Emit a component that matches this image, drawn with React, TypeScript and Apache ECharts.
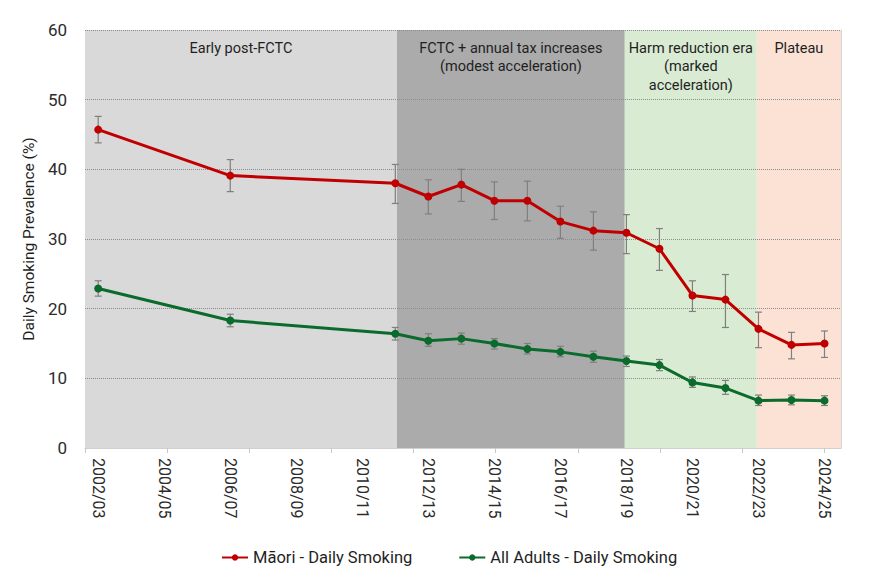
import React, { useEffect, useRef } from "react";
import * as echarts from "echarts";

// Survey years (start year of each survey period)
const YEARS = [2002, 2006, 2011, 2012, 2013, 2014, 2015, 2016, 2017, 2018, 2019, 2020, 2021, 2022, 2023, 2024];

const MAORI = [45.7, 39.1, 38.0, 36.1, 37.8, 35.5, 35.5, 32.5, 31.2, 30.9, 28.6, 21.9, 21.3, 17.1, 14.8, 15.0];
const MAORI_LOW = [43.8, 36.8, 35.1, 33.6, 35.4, 32.8, 32.6, 30.1, 28.4, 27.9, 25.5, 19.6, 17.3, 14.4, 12.8, 13.0];
const MAORI_HIGH = [47.6, 41.4, 40.7, 38.5, 40.0, 38.2, 38.3, 34.7, 33.9, 33.5, 31.5, 24.0, 24.9, 19.5, 16.6, 16.8];

const ADULTS = [22.9, 18.3, 16.4, 15.4, 15.7, 15.0, 14.2, 13.8, 13.1, 12.5, 11.9, 9.4, 8.6, 6.8, 6.9, 6.8];
const ADULTS_LOW = [21.8, 17.4, 15.5, 14.6, 14.9, 14.2, 13.5, 13.1, 12.3, 11.7, 11.1, 8.7, 7.7, 6.1, 6.2, 6.1];
const ADULTS_HIGH = [24.0, 19.2, 17.3, 16.4, 16.5, 15.7, 15.0, 14.6, 13.9, 13.2, 12.7, 10.2, 9.7, 7.6, 7.6, 7.5];

// Policy eras
const ERA_LABELS = [
  "Early post-FCTC",
  "FCTC + annual tax increases\n(modest acceleration)",
  "Harm reduction era\n(marked\nacceleration)",
  "Plateau",
];
const ERA_BOUNDS = [2001.6, 2011.05, 2017.95, 2021.95, 2024.5];

// Axis tick labels (every second survey period)
const LABEL_YEARS = [2002, 2004, 2006, 2008, 2010, 2012, 2014, 2016, 2018, 2020, 2022, 2024];

const ERA_COLORS = ["#d9d9d9", "#ababab", "#d9ebd2", "#fce2d5"];
const FONT = "Roboto, 'Noto Sans', sans-serif";
const TEXT = "#1f1f1f";

const periodLabel = (y: number) => `${y}/${String((y + 1) % 100).padStart(2, "0")}`;

export default function App() {
  const ref = useRef<HTMLDivElement>(null);

  useEffect(() => {
    if (!ref.current) return;
    const chart = echarts.init(ref.current, undefined, { renderer: "svg" });

    const eraData = ERA_LABELS.map((_, i) => [ERA_BOUNDS[i], ERA_BOUNDS[i + 1], i]);
    const tickValues = Array.from({ length: 10 }, (_, k) => 2001.6 + k * 2.488);

    const errorBars = (low: number[], high: number[]) =>
      YEARS.map((y, i) => [y, low[i], high[i]]);

    const errorRender = (_params: any, api: any) => {
      const x = api.value(0);
      const lo = api.coord([x, api.value(1)]);
      const hi = api.coord([x, api.value(2)]);
      const style = { stroke: "#7f7f7f", lineWidth: 1.2 };
      const cap = 3.5;
      return {
        type: "group",
        children: [
          { type: "line", shape: { x1: lo[0], y1: lo[1], x2: hi[0], y2: hi[1] }, style },
          { type: "line", shape: { x1: hi[0] - cap, y1: hi[1], x2: hi[0] + cap, y2: hi[1] }, style },
          { type: "line", shape: { x1: lo[0] - cap, y1: lo[1], x2: lo[0] + cap, y2: lo[1] }, style },
        ],
      };
    };

    chart.setOption({
      animation: false,
      backgroundColor: "#ffffff",
      textStyle: { fontFamily: FONT },
      grid: { left: 85, right: 29, top: 30, bottom: 124, containLabel: false },
      legend: {
        data: ["Māori - Daily Smoking", "All Adults - Daily Smoking"],
        top: 544,
        left: 216,
        itemGap: 46,
        itemWidth: 26,
        itemHeight: 8,
        textStyle: { fontSize: 16.5, color: TEXT, fontFamily: FONT },
      },
      xAxis: {
        type: "value",
        min: 2001.6,
        max: 2024.5,
        z: 1.5,
        axisLine: { show: true, lineStyle: { color: "#d0d0d0", width: 1 } },
        axisTick: {
          show: true,
          customValues: tickValues,
          length: 5,
          lineStyle: { color: "#c8c8c8" },
        },
        axisLabel: {
          customValues: LABEL_YEARS,
          rotate: -90,
          margin: 10,
          fontSize: 16,
          color: "#2b2b2b",
          fontFamily: FONT,
          formatter: (v: number) => periodLabel(Math.round(v)),
        },
        splitLine: { show: false },
      },
      yAxis: [
        {
          type: "value",
          min: 0,
          max: 60,
          interval: 10,
          z: 1.5,
          name: "Daily Smoking Prevalence (%)",
          nameLocation: "middle",
          nameGap: 46,
          nameTextStyle: { fontSize: 15.5, color: TEXT, fontFamily: FONT },
          axisLine: { show: false },
          axisTick: { show: false },
          axisLabel: { fontSize: 17, color: "#2b2b2b", margin: 18, fontFamily: FONT },
          splitLine: { show: true, lineStyle: { type: "dotted", color: "#8c8c8c", width: 1 } },
        },
        {
          type: "value",
          min: 0,
          max: 60,
          position: "right",
          z: 1.5,
          axisLine: { show: true, lineStyle: { color: "#d6d6d6" } },
          axisTick: { show: false },
          axisLabel: { show: false },
          splitLine: { show: false },
        },
      ],
      series: [
        {
          type: "custom",
          name: "eras",
          z: 1,
          silent: true,
          data: eraData,
          renderItem: (_params: any, api: any) => {
            const i = api.value(2);
            const tl = api.coord([api.value(0), 60]);
            const br = api.coord([api.value(1), 0]);
            return {
              type: "group",
              children: [
                {
                  type: "rect",
                  shape: { x: tl[0], y: tl[1], width: br[0] - tl[0], height: br[1] - tl[1] },
                  style: { fill: ERA_COLORS[i] },
                },
                {
                  type: "text",
                  x: (tl[0] + br[0]) / 2,
                  y: tl[1] + 9,
                  style: {
                    text: ERA_LABELS[i],
                    align: "center",
                    verticalAlign: "top",
                    fill: TEXT,
                    fontSize: 14.5,
                    lineHeight: 18.5,
                    fontFamily: FONT,
                  },
                },
              ],
            };
          },
        },
        {
          type: "custom",
          name: "Māori CI",
          z: 2,
          data: errorBars(MAORI_LOW, MAORI_HIGH),
          renderItem: errorRender,
        },
        {
          type: "custom",
          name: "All Adults CI",
          z: 2,
          data: errorBars(ADULTS_LOW, ADULTS_HIGH),
          renderItem: errorRender,
        },
        {
          type: "line",
          name: "Māori - Daily Smoking",
          z: 3,
          data: YEARS.map((y, i) => [y, MAORI[i]]),
          symbol: "circle",
          symbolSize: 8,
          color: "#c00000",
          lineStyle: { width: 3, color: "#c00000" },
          itemStyle: { color: "#c00000" },
        },
        {
          type: "line",
          name: "All Adults - Daily Smoking",
          z: 3,
          data: YEARS.map((y, i) => [y, ADULTS[i]]),
          symbol: "circle",
          symbolSize: 8,
          color: "#0a6b2c",
          lineStyle: { width: 3, color: "#0a6b2c" },
          itemStyle: { color: "#0a6b2c" },
        },
      ],
    });

    return () => chart.dispose();
  }, []);

  return (
    <div
      ref={ref}
      style={{ position: "fixed", left: 0, top: 0, width: 870, height: 572, background: "#fff" }}
    />
  );
}
